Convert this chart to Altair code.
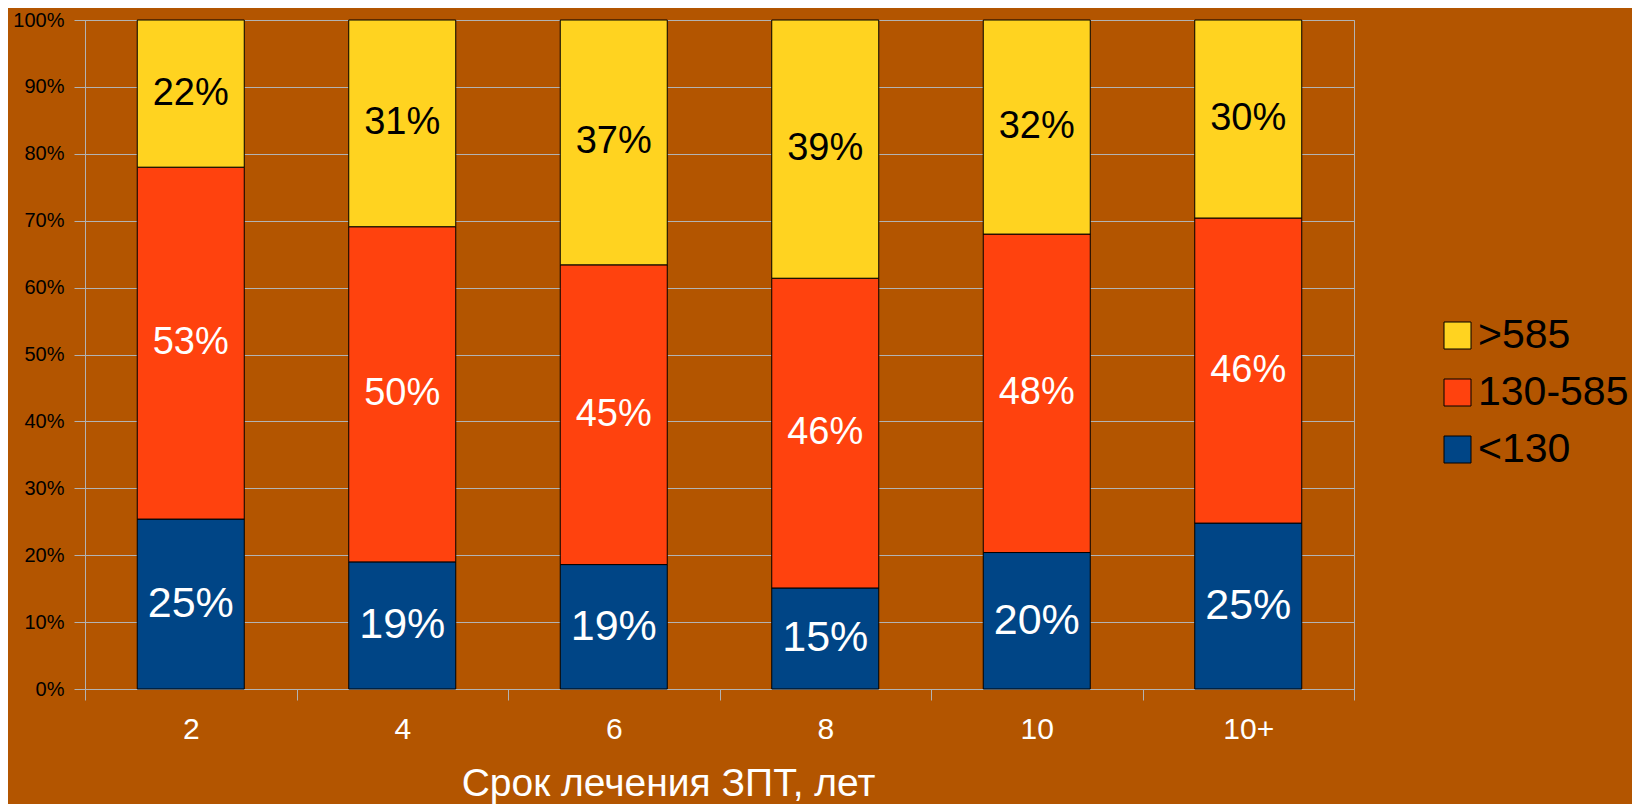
import altair as alt
import pandas as pd

# Data
categories = ["2", "4", "6", "8", "10", "10+"]
series_names = ["<130", "130-585", ">585"]
low_vals = [25.4, 19.0, 18.6, 15.1, 20.4, 24.8]     # <130
mid_vals = [52.6, 50.1, 44.8, 46.3, 47.6, 45.6]     # 130-585
high_vals = [22.0, 30.9, 36.6, 38.6, 32.0, 29.6]    # >585
y_ticks = [0, 10, 20, 30, 40, 50, 60, 70, 80, 90, 100]

rows = []
for i, c in enumerate(categories):
    for k, (s, vals) in enumerate(zip(series_names, [low_vals, mid_vals, high_vals])):
        rows.append({"cat": c, "series": s, "ord": k, "value": vals[i]})
df = pd.DataFrame(rows)

GRID = "#b3b3b3"
FONT = "Liberation Sans"

color_scale = alt.Scale(domain=[">585", "130-585", "<130"],
                        range=["#ffd320", "#ff420e", "#004586"])

base = alt.Chart(df).transform_stack(
    stack="value", as_=["v0", "v1"], groupby=["cat"],
    sort=[alt.SortField("ord", order="ascending")]
).transform_calculate(
    mid="(datum.v0 + datum.v1) / 2",
    label="format(datum.value / 100, '.0%')"
)

x_enc = alt.X("cat:N", sort=categories,
              scale=alt.Scale(paddingInner=0, paddingOuter=0),
              axis=alt.Axis(title="Срок лечения ЗПТ, лет", labelAngle=0,
                            tickBand="extent", tickSize=11, tickColor=GRID,
                            domainColor=GRID, labelColor="white", labelFontSize=30,
                            labelPadding=14, labelFont=FONT,
                            titleColor="white", titleFontSize=39, titleFont=FONT,
                            titleFontWeight="normal", titleX=583, titleY=106,
                            titleAlign="center", titleBaseline="alphabetic",
                            grid=False))

bars = base.mark_bar(width=alt.RelativeBandSize(0.506), stroke="black",
                     strokeWidth=1).encode(
    x=x_enc,
    y=alt.Y("v0:Q", scale=alt.Scale(domain=[0, 100], nice=False),
            axis=alt.Axis(title=None, values=y_ticks,
                          labelExpr="datum.value + '%'",
                          gridColor=GRID, gridWidth=1, tickColor=GRID,
                          tickSize=11, domainColor=GRID, labelColor="black",
                          labelFontSize=20, labelFont=FONT, labelPadding=10)),
    y2="v1:Q",
    color=alt.Color("series:N", scale=color_scale,
                    legend=alt.Legend(title=None, orient="none", legendX=1352,
                                      legendY=295, symbolType="square",
                                      symbolSize=729, symbolStrokeColor="black",
                                      symbolStrokeWidth=1, symbolOpacity=1,
                                      labelFontSize=41, labelFont=FONT,
                                      labelColor="black", labelOffset=0,
                                      labelLimit=400, rowPadding=15)),
)

texts = base.mark_text(font=FONT, baseline="middle", align="center").encode(
    x=alt.X("cat:N", sort=categories),
    y=alt.Y("mid:Q"),
    text="label:N",
    color=alt.condition(alt.datum.series == ">585", alt.value("black"), alt.value("white")),
    size=alt.condition(alt.datum.series == "<130", alt.value(43), alt.value(38)),
)

chart = alt.layer(bars, texts).properties(
    width=1269, height=669,
    autosize=alt.AutoSizeParams(type="none"),
    padding={"left": 77, "top": 12, "right": 278, "bottom": 115},
    background="#b35500",
).configure_view(stroke=GRID, strokeWidth=1)

chart.save("out.html", embed_options={"renderer": "svg", "actions": False})
